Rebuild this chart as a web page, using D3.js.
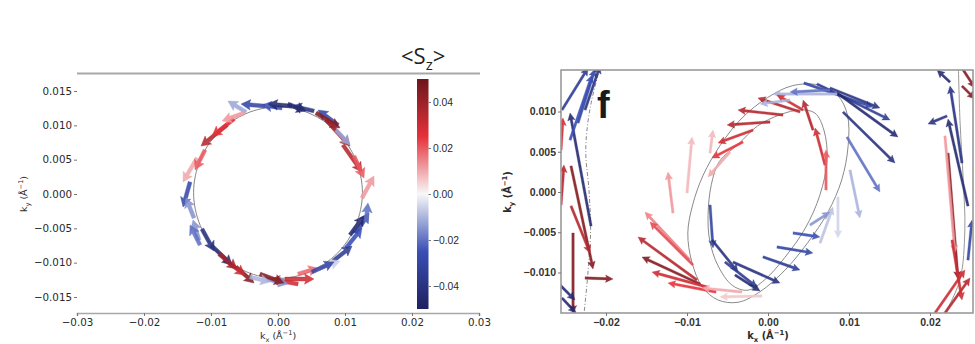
<!DOCTYPE html>
<html><head><meta charset="utf-8">
<script src="https://cdn.jsdelivr.net/npm/d3@7"></script>
<style>body{margin:0;background:#fff;} svg{display:block;font-family:"DejaVu Sans",sans-serif;}</style>
</head><body>
<svg id="c" width="975" height="344"></svg>
<script>
// ---------- data: left panel (circular Fermi contour) ----------
const leftKx=[-0.00478,-0.00194,0.00060,0.00209,0.00537,0.00149,0.00896,0.00567,0.00716,0.00866,0.00970,0.01134,0.01254,0.01164,0.01015,0.00821,0.01075,0.00627,0.00299,0.00104,0.00299,-0.00179,-0.00269,-0.00627,-0.00418,-0.00806,-0.01000,-0.00881,-0.01134,-0.01179,-0.01313,-0.01254,-0.01209,-0.00761,-0.00657,-0.00507,-0.01090,-0.01164,0.00507,0.01313];
const leftKy=[0.01194,0.01281,0.01252,0.01281,0.01209,0.01311,0.01005,0.01180,0.01078,0.00932,0.00714,0.00553,-0.00058,-0.00568,-0.00786,-0.00976,-0.00597,-0.01078,-0.01165,-0.01238,-0.01311,-0.01238,-0.01165,-0.01063,-0.01209,-0.00947,-0.00743,-0.00874,-0.00510,-0.00670,0.00175,-0.00349,0.00524,0.01005,0.01092,0.01180,0.00641,-0.00743,-0.01136,-0.00408];
const leftU=[-0.00269,-0.00358,-0.00299,-0.00358,-0.00328,0.00269,-0.00299,0.00358,0.00358,0.00209,0.00284,0.00149,0.00179,0.00194,0.00239,0.00284,0.00209,0.00299,0.00299,0.00433,-0.00418,0.00328,0.00358,0.00269,0.00299,0.00313,0.00313,0.00269,0.00179,-0.00090,-0.00104,-0.00119,-0.00209,-0.00388,-0.00328,-0.00328,-0.00149,-0.00149,0.00328,0.00030];
const leftV=[0.00160,0.00029,0.00044,0.00029,0.00073,-0.00102,0.00218,-0.00218,-0.00379,-0.00218,-0.00393,-0.00320,0.00320,0.00291,0.00291,0.00218,0.00277,0.00102,0.00087,0,0.00073,-0.00073,-0.00131,-0.00233,-0.00073,-0.00233,-0.00291,-0.00218,-0.00320,0.00291,-0.00364,0.00291,-0.00349,-0.00306,-0.00248,-0.00117,-0.00291,0.00291,0.00146,0.00277];
const leftSz=[-0.012,-0.03,-0.025,-0.045,-0.04,-0.045,-0.03,0.045,0.04,-0.012,0.035,0.02,0.012,-0.03,-0.025,-0.035,-0.045,-0.006,0.018,0.03,0.03,-0.015,0.045,0.045,-0.01,0.03,-0.045,0.038,-0.04,-0.015,-0.028,-0.015,0.01,0.035,0.025,0.012,0.02,-0.02,-0.03,-0.02];
const circleKx=[0.0126,0.0116,0.0089,0.0048,0,-0.0048,-0.0089,-0.0116,-0.0126,-0.0116,-0.0089,-0.0048,0,0.0048,0.0089,0.0116];
const circleKy=[0.0002,0.0050,0.0090,0.0117,0.0127,0.0117,0.0090,0.0050,0.0002,-0.0046,-0.0086,-0.0113,-0.0123,-0.0113,-0.0086,-0.0046];

// ---------- data: right panel (tilted contours) ----------
const rightKx=[0.00444,0.00605,0.00852,0.00926,0.00975,0.01012,0.00864,0.00852,0.00765,0.00765,
 0.00395,0.00432,0.00185,0.00025,-0.00185,-0.00309,-0.00469,0.00704,0.00716,0.00272,0.00556,
 -0.00716,-0.01000,-0.01173,
 -0.00963,-0.00926,-0.00877,-0.00840,-0.00753,-0.00642,-0.00321,-0.00074,
 -0.00716,-0.00691,-0.00531,-0.00432,-0.00062,0.00111,0.00309,0.00642,0.00519,-0.00407,
 -0.02185,-0.02346,-0.02432,-0.02432,-0.02407,-0.02259,-0.02593,-0.02543,-0.02444,-0.02556,-0.02556,-0.02543,-0.02259,
 0.02469,0.02395,0.02210,0.02222,0.02185,0.02062,0.02185,0.02272,0.02395,0.02395,0.02469,0.02247];
const rightKy=[0.01354,0.01342,0.01230,0.00994,0.00683,0.00273,-0.00062,0.01217,0.01267,0.01292,
 0.00994,0.01019,0.00957,0.00870,0.00770,0.00621,0.00497,0.00335,0.00025,0.01143,0.00770,
 0.00484,-0.00012,-0.00261,
 -0.00845,-0.00907,-0.01093,-0.01143,-0.01180,-0.01242,-0.01242,-0.01292,
 -0.00161,-0.00596,-0.00870,-0.00870,-0.00807,-0.00683,-0.00509,-0.00634,-0.00410,-0.01031,
 -0.00422,0.00857,0.00323,-0.00174,-0.00509,-0.01068,-0.01130,-0.01317,0.00646,0.00522,-0.00161,0.01019,0.01019,
 -0.00174,0.00360,0.00944,0.00484,0.00696,-0.01503,-0.01503,-0.00596,0.01540,0.01317,-0.00845,0.01366];
const rightU=[0.00852,0.00901,0.00753,0.00642,0.00407,0.00123,0,-0.00790,-0.00494,0.00617,
 -0.00519,-0.00321,-0.00556,-0.00531,-0.00432,-0.00383,-0.00272,-0.00123,0,-0.00370,-0.00123,
 0.00037,0.00062,-0.00062,
 -0.00556,-0.00531,-0.00728,-0.00716,-0.00679,-0.00593,-0.00494,-0.00519,
 0.00037,0.00321,0.00395,0.00580,0.00457,0.00444,0.00333,0.00160,0.00247,0.00309,
 -0.00259,0.00210,0.00272,0.00235,0,0.00346,0.00210,0.00173,0.00272,0.00025,0.00037,0.00321,0.00185,
 -0.00247,-0.00148,-0.00235,0.00123,0.00123,0.00370,0.00309,0.00123,0.00160,0.00160,0.00050,-0.00160];
const rightV=[-0.00298,-0.00447,-0.00547,-0.00634,-0.00683,-0.00596,-0.00509,0,-0.00025,-0.00248,
 0.00174,0.00186,0.00062,-0.00037,-0.00161,-0.00199,-0.00311,0.00460,0.00497,-0.00050,0.00373,
 0.00286,0.00696,0.00509,
 0.00596,0.00534,0.00534,0.00335,0.00186,0.00112,0.00050,-0.00012,
 -0.00534,-0.00398,-0.00311,-0.00261,-0.00161,-0.00075,-0.00050,0.00447,0.00161,-0.00199,
 0.01404,0.00671,-0.01280,-0.00584,-0.00994,-0.00012,-0.00211,-0.00186,0.00807,0.00398,0.00497,0.00522,0.00547,
 0.01081,0.00957,-0.00099,-0.01565,-0.01453,0.00534,0.00435,-0.00745,-0.00248,-0.00161,0.00497,0.00149];
const rightSz=[-0.03,-0.035,-0.045,-0.04,-0.02,-0.01,-0.005,-0.01,-0.02,-0.04,
 0.035,0.03,0.035,0.035,0.03,0.025,0.01,0.03,0.02,-0.01,0.035,
 0.008,0.008,0.012,
 0.015,0.022,0.035,0.045,0.03,0.025,0.01,0.006,
 -0.03,-0.04,-0.035,-0.04,-0.035,-0.03,-0.025,-0.008,-0.015,-0.045,
 -0.045,-0.03,0.045,0.035,0.045,0.045,-0.045,-0.045,-0.025,0.03,0.035,-0.035,-0.04,
 -0.045,-0.04,-0.04,0.045,0.012,0.03,0.035,0.03,0.045,0.045,-0.03,-0.045];
const outerKx=[-0.0099,-0.0093,-0.0080,-0.0059,-0.0032,-0.0001,0.0030,0.0062,0.0086,0.0098,0.0099,0.0091,0.0074,0.0049,0.0021,-0.0010,-0.0037,-0.0062,-0.0081,-0.0094];
const outerKy=[-0.0051,-0.0016,0.0021,0.0058,0.0092,0.0117,0.0132,0.0133,0.0120,0.0096,0.0058,0.0015,-0.0025,-0.0063,-0.0097,-0.0124,-0.0137,-0.0134,-0.0118,-0.0087];
const innerKx=[-0.0074,-0.0070,-0.0060,-0.0036,-0.0013,0.0015,0.0040,0.0058,0.0069,0.0073,0.0064,0.0046,0.0021,-0.0004,-0.0025,-0.0044,-0.0062,-0.0072];
const innerKy=[-0.0029,0.0009,0.0038,0.0060,0.0082,0.0096,0.0102,0.0098,0.0077,0.0040,-0.0004,-0.0045,-0.0081,-0.0109,-0.0122,-0.0116,-0.0091,-0.0060];
const edgeLKx=[-0.0207,-0.0220,-0.0225,-0.0221,-0.0219,-0.0222,-0.0227];
const edgeLKy=[0.0157,0.0102,0.0052,0.0002,-0.0047,-0.0097,-0.0150];
const edgeRKx=[0.0235,0.0237,0.0241,0.0243,0.0237,0.0219];
const edgeRKy=[0.0157,0.0089,0.0015,-0.0047,-0.0109,-0.0150];

// ---------- ticks / colour ----------
const leftXTicks=[-0.03,-0.02,-0.01,0,0.01,0.02,0.03];
const leftYTicks=[-0.015,-0.01,-0.005,0,0.005,0.01,0.015];
const rightXTicks=[-0.02,-0.01,0,0.01,0.02];
const rightYTicks=[-0.01,-0.005,0,0.005,0.01];
const cbTicks=[-0.04,-0.02,0,0.02,0.04];
const colorStops=[-0.05,-0.025,0,0.025,0.05];
const colorRange=["#1e2160","#3a4fb4","#f8f8f8","#e5313a","#6b171c"];

const svg=d3.select("#c");
const color=d3.scaleLinear().domain(colorStops).range(colorRange).clamp(true);

function arrowPath(x0,y0,x1,y1,sw,hw,hl){
  const dx=x1-x0,dy=y1-y0,L=Math.hypot(dx,dy); if(L<0.5) return "";
  const ux=dx/L,uy=dy/L,nx=-uy,ny=ux;
  const h=Math.min(hl,L*0.6),bx=x1-ux*h,by=y1-uy*h;
  const bb=h*0.12;
  const p=[[x0+nx*sw/2,y0+ny*sw/2],[bx+ux*bb+nx*sw/2,by+uy*bb+ny*sw/2],[bx+nx*hw/2,by+ny*hw/2],[x1,y1],
           [bx-nx*hw/2,by-ny*hw/2],[bx+ux*bb-nx*sw/2,by+uy*bb-ny*sw/2],[x0-nx*sw/2,y0-ny*sw/2]];
  return "M"+p.map(q=>q[0].toFixed(2)+","+q[1].toFixed(2)).join("L")+"Z";
}

// ================= LEFT PANEL =================
const xL=d3.scaleLinear().domain([-0.03,0.03]).range([77,479]);
const yL=d3.scaleLinear().domain([-0.015,0.015]).range([297,91]);

svg.append("line").attr("x1",77).attr("x2",480).attr("y1",73.5).attr("y2",73.5)
  .attr("stroke","#a8a8a8").attr("stroke-width",2.2);

const gLx=svg.append("g").attr("transform","translate(0,313)")
  .call(d3.axisBottom(xL).tickValues(leftXTicks).tickFormat(d3.format(".2f")).tickSize(3).tickPadding(3));
const gLy=svg.append("g").attr("transform","translate(77,0)")
  .call(d3.axisLeft(yL).tickValues(leftYTicks).tickFormat(d3.format(".3f")).tickSize(3).tickPadding(2));
gLy.select(".domain").remove();
[gLx,gLy].forEach(g=>{
  g.selectAll("text").attr("font-size",10.3).attr("fill","#2a2a2a").attr("font-family","DejaVu Sans");
  g.selectAll(".tick line").attr("stroke","#777");
});
gLx.select(".domain").attr("stroke","#a8a8a8").attr("stroke-width",1.6);

const lineGen=(xs,ys,x,y,closed)=>d3.line().x(i=>x(xs[i])).y(i=>y(ys[i]))
  .curve(closed?d3.curveCatmullRomClosed:d3.curveCatmullRom)(d3.range(xs.length));

svg.append("path").attr("d",lineGen(circleKx,circleKy,xL,yL,true))
  .attr("fill","none").attr("stroke","#777").attr("stroke-width",0.9);

svg.append("g").selectAll("path").data(d3.range(leftKx.length)).join("path")
  .attr("d",i=>arrowPath(xL(leftKx[i]),yL(leftKy[i]),xL(leftKx[i]+leftU[i]),yL(leftKy[i]+leftV[i]),3.8,10.5,9.5))
  .attr("fill",i=>color(leftSz[i])).attr("fill-opacity",0.88)
  .attr("stroke",i=>color(leftSz[i])).attr("stroke-width",0.4);

// axis labels
function kLabel(g,x,y,sub,rot,size,weight){
  const t=g.append("text").attr("text-anchor","middle").attr("font-size",size).attr("fill","#2a2a2a")
    .attr("font-weight",weight||"normal")
    .attr("transform",`translate(${x},${y})`+(rot?" rotate(-90)":""));
  t.append("tspan").text("k");
  t.append("tspan").attr("font-size",size*0.7).attr("dy",size*0.3).text(sub);
  t.append("tspan").attr("dy",-size*0.3).text(" (Å");
  t.append("tspan").attr("font-size",size*0.7).attr("dy",-size*0.4).text("−1");
  t.append("tspan").attr("dy",size*0.4).text(")");
}
kLabel(svg,278,339,"x",false,9.5);
kLabel(svg,27,194,"y",true,9.5);

// colorbar
const cbY=d3.scaleLinear().domain([-0.04,0.04]).range([286,102]);
const defs=svg.append("defs");
const grad=defs.append("linearGradient").attr("id","cbg").attr("x1",0).attr("x2",0).attr("y1",1).attr("y2",0);
colorStops.forEach((s,i)=>grad.append("stop").attr("offset",(s+0.05)/0.1).attr("stop-color",colorRange[i]));
svg.append("rect").attr("x",417).attr("width",11.5).attr("y",cbY(0.05)).attr("height",cbY(-0.05)-cbY(0.05))
  .attr("fill","url(#cbg)");
const gCb=svg.append("g").attr("transform","translate(428.5,0)")
  .call(d3.axisRight(cbY).tickValues(cbTicks).tickFormat(d3.format(".2f")).tickSize(2.5).tickPadding(2));
gCb.select(".domain").remove();
gCb.selectAll("text").attr("font-size",10.3).attr("fill","#2a2a2a");
gCb.selectAll(".tick line").attr("stroke","#777");

const title=svg.append("text").attr("x",401).attr("y",64).attr("font-family","Open Sans").attr("font-size",22).attr("fill","#222");
title.append("tspan").text("<S");
title.append("tspan").attr("font-size",15).attr("dy",6).text("z");
title.append("tspan").attr("dy",-6).text(">");

// ================= RIGHT PANEL =================
const xR=d3.scaleLinear().domain([-0.02,0.02]).range([606,930]);
const yR=d3.scaleLinear().domain([-0.01,0.01]).range([272.5,111.5]);
defs.append("clipPath").attr("id","clipR").append("rect").attr("x",561).attr("y",70).attr("width",412).attr("height",243);
const gR=svg.append("g").attr("clip-path","url(#clipR)");

gR.append("path").attr("d",lineGen(outerKx,outerKy,xR,yR,true)).attr("fill","none").attr("stroke","#8a8a8a").attr("stroke-width",1);
gR.append("path").attr("d",lineGen(innerKx,innerKy,xR,yR,true)).attr("fill","none").attr("stroke","#8a8a8a").attr("stroke-width",1);
gR.append("path").attr("d",lineGen(edgeLKx,edgeLKy,xR,yR,false)).attr("fill","none").attr("stroke","#888").attr("stroke-width",1).attr("stroke-dasharray","4,2,1,2");
gR.append("path").attr("d",lineGen(edgeRKx,edgeRKy,xR,yR,false)).attr("fill","none").attr("stroke","#999").attr("stroke-width",1);

gR.append("g").selectAll("path").data(d3.range(rightKx.length)).join("path")
  .attr("d",i=>arrowPath(xR(rightKx[i]),yR(rightKy[i]),xR(rightKx[i]+rightU[i]),yR(rightKy[i]+rightV[i]),2.4,7.5,7.5))
  .attr("fill",i=>color(rightSz[i])).attr("fill-opacity",0.9)
  .attr("stroke",i=>color(rightSz[i])).attr("stroke-width",0.3);

svg.append("rect").attr("x",561).attr("y",70).attr("width",412).attr("height",243)
  .attr("fill","none").attr("stroke","#9a9a9a").attr("stroke-width",1.6);

const gRx=svg.append("g").attr("transform","translate(0,313)")
  .call(d3.axisBottom(xR).tickValues(rightXTicks).tickFormat(d3.format(".2f")).tickSize(3).tickPadding(3));
const gRy=svg.append("g").attr("transform","translate(561,0)")
  .call(d3.axisLeft(yR).tickValues(rightYTicks).tickFormat(d3.format(".3f")).tickSize(3).tickPadding(2));
[gRx,gRy].forEach(g=>{
  g.select(".domain").remove();
  g.selectAll("text").attr("font-size",10.5).attr("font-weight","bold").attr("fill","#333");
  g.selectAll(".tick line").attr("stroke","#777");
});
kLabel(svg,768,339,"x",false,9.8,"bold");
kLabel(svg,511,192,"y",true,9.8,"bold");

svg.append("text").attr("x",597).attr("y",118).attr("font-family","Liberation Sans").attr("font-weight","bold")
  .attr("font-size",38).attr("fill","#1a1a1a").text("f");
</script>
</body></html>
